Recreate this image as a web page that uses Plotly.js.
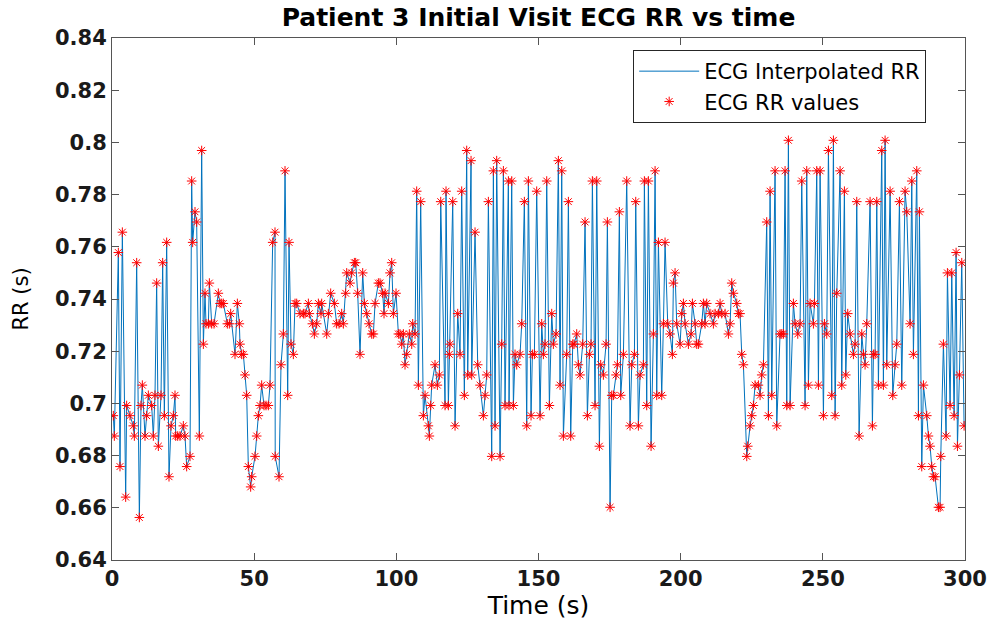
<!DOCTYPE html>
<html>
<head>
<meta charset="utf-8">
<script src="https://cdn.plot.ly/plotly-3.0.1.min.js"></script>
<style>html,body{margin:0;padding:0;background:#fff;}#chart{width:993px;height:630px;}</style>
</head>
<body>
<div id="chart"></div>
<script>
// Beat times (s) and RR interval values (s)
const beatTimes = [
0.47,0.82,2.23,2.81,3.64,4.81,5.16,6.33,7.50,7.86,8.68,9.62,10.20,10.67,11.61,12.19,12.78,13.95,14.54,15.12,15.71,16.30,17.24,17.82,18.41,19.23,20.05,20.75,21.57,22.16,22.40,23.10,23.92,25.09,25.68,26.26,
27.44,28.02,28.37,29.19,29.78,30.72,31.54,32.13,32.71,33.06,33.90,34.24,35.06,35.88,37.40,37.99,38.57,39.16,40.57,41.27,41.74,43.26,44.09,44.79,45.02,45.61,46.20,46.78,47.37,47.95,48.77,49.13,50.30,50.89,51.47,52.06,52.64,53.46,54.17,54.99,55.57,56.51,
57.33,57.40,58.74,59.44,60.27,60.85,61.79,62.26,62.96,63.78,64.37,64.96,66.13,67.30,67.89,69.06,69.41,70.47,71.17,71.99,72.58,73.51,73.75,75.51,76.09,76.91,78.20,79.02,79.85,80.78,81.37,82.19,82.54,83.72,84.30,85.24,85.71,86.41,
87.23,88.17,88.76,89.58,90.40,91.34,91.92,92.51,93.68,94.27,95.20,95.67,96.03,97.20,97.78,98.37,98.96,99.89,100.72,101.30,101.89,102.47,103.06,103.65,104.58,105.41,105.76,106.58,107.16,107.75,108.57,109.51,110.10,111.27,111.62,112.09,112.44,113.61,114.43,115.14,115.61,
117.13,117.48,118.30,118.65,118.89,119.83,120.65,121.59,122.41,122.99,123.93,124.75,125.10,126.28,126.51,127.68,128.62,129.44,130.61,131.20,131.79,132.37,133.55,134.13,134.72,135.30,136.48,137.06,137.65,138.23,139.41,139.64,140.58,141.17,141.75,142.34,143.51,144.10,145.03,145.86,146.44,
147.38,147.85,148.55,149.37,150.55,151.13,151.72,152.30,152.89,153.83,154.65,155.23,156.17,156.99,157.58,158.17,158.75,159.92,160.51,161.33,162.04,162.50,163.44,164.03,164.61,165.55,166.37,167.19,167.90,168.48,168.95,169.89,170.48,171.41,171.88,172.82,173.76,174.23,175.17,175.75,176.34,
177.28,177.75,178.45,178.92,179.86,181.03,182.20,182.79,183.73,184.20,185.13,185.72,186.89,187.24,188.06,188.65,189.59,190.41,191.00,191.58,192.17,193.34,193.93,194.51,195.45,196.27,197.09,197.44,198.03,198.62,199.79,200.38,200.96,201.55,202.72,203.66,204.13,205.07,205.65,206.24,
207.41,207.99,208.58,209.17,210.34,211.51,212.10,213.27,213.86,214.45,215.62,216.79,217.38,217.96,218.55,219.72,220.31,220.89,221.48,222.07,223.24,223.59,224.41,225.00,225.58,226.17,227.34,227.93,228.51,229.10,230.27,230.86,231.45,232.03,233.20,233.79,234.96,235.55,236.14,
236.72,237.31,237.89,238.48,239.65,240.24,241.18,242.00,242.58,243.76,244.34,244.93,245.52,246.69,247.04,247.86,248.45,249.03,250.21,250.56,251.38,251.96,253.14,253.72,254.31,254.90,256.07,256.65,257.59,258.06,258.76,259.59,260.76,261.34,261.93,262.75,263.69,264.28,264.86,265.45,
266.62,267.44,267.79,268.38,268.97,269.55,270.72,271.31,271.90,272.48,273.66,274.59,275.41,276.00,276.94,277.76,278.93,279.52,280.69,281.28,281.86,283.03,283.62,283.97,284.79,285.38,286.55,287.14,287.72,288.31,288.90,289.48,290.66,291.24,291.48,292.41,293.35,293.82,294.76,295.34,296.17,296.87,297.34,298.04,298.86,299.68
];
const rrValues = [
0.6953,0.6875,0.7578,0.6758,0.7656,0.6641,0.6992,0.6953,0.6914,0.6875,0.7539,0.6563,0.6992,0.707,0.6875,0.6953,0.7031,0.6992,0.6875,0.7031,0.7461,0.6836,0.7031,0.7539,0.6953,0.7617,0.6719,0.6914,0.6953,0.7031,0.6875,0.6875,0.6875,0.6914,0.6875,0.6758,
0.6797,0.7852,0.7617,0.7734,0.7695,0.6875,0.7969,0.7227,0.7422,0.7305,0.7305,0.7461,0.7305,0.7305,0.7422,0.7383,0.7383,0.7383,0.7305,0.7305,0.7344,0.7188,0.7383,0.7305,0.7227,0.7188,0.7188,0.7109,0.7031,0.6758,0.668,0.6719,0.6797,0.6875,0.6953,0.6992,0.707,0.6992,0.6992,0.6992,0.707,0.7617,
0.7656,0.6797,0.6719,0.7148,0.7266,0.7891,0.7031,0.7617,0.7227,0.7188,0.7383,0.7383,0.7344,0.7344,0.7344,0.7383,0.7344,0.7305,0.7266,0.7305,0.7383,0.7344,0.7383,0.7266,0.7344,0.7422,0.7383,0.7305,0.7305,0.7344,0.7305,0.7422,0.75,0.7461,0.75,0.7539,0.7539,0.7422,
0.7188,0.75,0.7383,0.7344,0.7305,0.7266,0.7266,0.7383,0.7461,0.7461,0.7422,0.7344,0.7422,0.7383,0.75,0.7539,0.7344,0.7422,0.7266,0.7266,0.7227,0.7266,0.7148,0.7188,0.7266,0.7227,0.7305,0.7266,0.7813,0.707,0.7773,0.6953,0.7031,0.6914,0.6875,0.6992,0.707,0.7148,0.707,0.7109,0.7773,
0.6992,0.7813,0.6992,0.7188,0.7227,0.7773,0.6914,0.7344,0.7188,0.7813,0.7031,0.7969,0.7109,0.793,0.7109,0.7656,0.7148,0.707,0.6953,0.7031,0.7109,0.7773,0.6797,0.7891,0.6914,0.793,0.6797,0.7227,0.7891,0.6992,0.7852,0.6992,0.7852,0.6992,0.7188,0.7148,0.7188,0.7305,0.7773,0.6914,0.7852,
0.6953,0.7188,0.7188,0.7813,0.6953,0.7305,0.7188,0.7227,0.7852,0.6992,0.7344,0.7227,0.7266,0.793,0.707,0.7891,0.6875,0.7188,0.7773,0.6875,0.7227,0.7227,0.7266,0.7148,0.7109,0.7227,0.7695,0.6953,0.7188,0.7227,0.7852,0.6992,0.7852,0.6836,0.7148,0.7109,0.7227,0.7695,0.6602,0.7031,0.7031,
0.7109,0.7148,0.7734,0.7031,0.7188,0.7852,0.6914,0.7148,0.7188,0.7773,0.6914,0.7109,0.7148,0.7852,0.6992,0.7852,0.6836,0.7266,0.7891,0.7031,0.7617,0.7031,0.7305,0.7617,0.7305,0.7266,0.7188,0.7461,0.75,0.7305,0.7227,0.7344,0.7383,0.7305,0.7227,0.7266,0.7383,0.7305,0.7227,0.7227,
0.7305,0.7383,0.7305,0.7383,0.7344,0.7305,0.7344,0.7344,0.7383,0.7344,0.7344,0.7266,0.7305,0.7461,0.7422,0.7383,0.7344,0.7344,0.7188,0.7148,0.6797,0.6836,0.6914,0.6953,0.6992,0.707,0.707,0.7031,0.7109,0.7148,0.7695,0.6953,0.7813,0.7031,0.7891,0.6914,0.7266,0.7266,0.7266,
0.7891,0.6992,0.8008,0.6992,0.7383,0.7305,0.7266,0.7305,0.7852,0.6992,0.7891,0.707,0.7383,0.7305,0.7383,0.7891,0.707,0.7891,0.6953,0.7305,0.7266,0.7969,0.7031,0.8008,0.6953,0.7422,0.7891,0.707,0.7813,0.7109,0.7344,0.7266,0.7188,0.7227,0.7773,0.6875,0.7266,0.7188,0.7148,0.7305,
0.7773,0.6914,0.7188,0.7188,0.7773,0.707,0.7969,0.707,0.8008,0.7148,0.7813,0.7031,0.7148,0.7227,0.7773,0.707,0.7813,0.7734,0.7305,0.7852,0.7188,0.7891,0.6953,0.7734,0.6758,0.707,0.6953,0.6875,0.6836,0.6758,0.6719,0.6719,0.6602,0.6602,0.6797,0.7227,0.6875,0.75,0.6992,0.75,0.6953,0.7578,0.6836,0.7109,0.7539,0.6914
];
const xTickVals = [0, 50, 100, 150, 200, 250, 300];
const yTickVals = [0.64, 0.66, 0.68, 0.70, 0.72, 0.74, 0.76, 0.78, 0.80, 0.82, 0.84];
const yTickText = ['0.64', '0.66', '0.68', '0.7', '0.72', '0.74', '0.76', '0.78', '0.8', '0.82', '0.84'];

const FONT = 'DejaVu Sans, Liberation Sans, Arial, sans-serif';

const traces = [
  {
    x: beatTimes, y: rrValues, type: 'scatter', mode: 'lines',
    name: 'ECG Interpolated RR',
    line: {color: '#0072BD', width: 1}
  },
  {
    x: beatTimes, y: rrValues, type: 'scatter', mode: 'markers',
    name: 'ECG RR values',
    marker: {symbol: 'asterisk-open', size: 8, color: '#FF0000', line: {color: '#FF0000', width: 1}}
  }
];

const axisCommon = {
  showgrid: false, zeroline: false, showline: true, linecolor: '#555555', linewidth: 1,
  mirror: 'ticks', ticks: 'inside', ticklen: 7, tickcolor: '#555555', tickwidth: 1,
  tickfont: {family: FONT, size: 21, color: '#1a1a1a', weight: 'bold'}
};

const layout = {
  width: 993, height: 630,
  margin: {l: 112, r: 28, t: 38, b: 70},
  paper_bgcolor: '#ffffff', plot_bgcolor: '#ffffff',
  font: {family: FONT, color: '#000000'},
  title: {
    text: '<b>Patient 3 Initial Visit ECG RR vs time</b>',
    font: {family: FONT, size: 25, color: '#000000'},
    x: 0.5, xref: 'paper', xanchor: 'center',
    y: 0.973, yref: 'container', yanchor: 'middle'
  },
  xaxis: Object.assign({}, axisCommon, {
    range: [0, 300], tickvals: xTickVals,
    title: {text: 'Time (s)', font: {family: FONT, size: 25, color: '#000000'}, standoff: 2}
  }),
  yaxis: Object.assign({}, axisCommon, {
    range: [0.64, 0.84], tickvals: yTickVals, ticktext: yTickText,
    title: {text: 'RR (s)', font: {family: FONT, size: 21, color: '#000000'}, standoff: 20}
  }),
  showlegend: true,
  legend: {
    x: 0.611, y: 0.977, xanchor: 'left', yanchor: 'top',
    bgcolor: '#ffffff', bordercolor: '#262626', borderwidth: 1,
    font: {family: FONT, size: 21, color: '#000000'},
    itemwidth: 60, tracegroupgap: 0
  }
};

Plotly.newPlot('chart', traces, layout, {displayModeBar: false, staticPlot: true});
</script>
</body>
</html>
